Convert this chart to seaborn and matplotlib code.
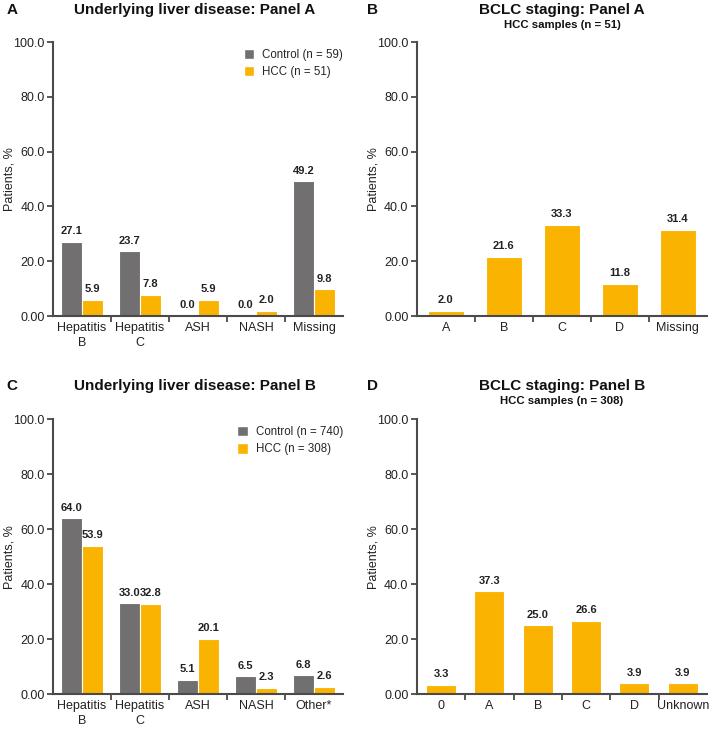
import matplotlib
matplotlib.use("Agg")
from matplotlib import pyplot as plt
from matplotlib.patches import Patch
from matplotlib.ticker import FixedLocator
import pandas as pd
import seaborn as sns

sns.set_style("ticks")
plt.rcParams['font.family'] = ['Liberation Sans', 'DejaVu Sans']

GRAY = '#716f70'
ORANGE = '#fab300'
SPINE = '#4a4a4a'

# Panel A - underlying liver disease
disease_a = ['Hepatitis\nB', 'Hepatitis\nC', 'ASH', 'NASH', 'Missing']
control_a = [27.1, 23.7, 0.0, 0.0, 49.2]
hcc_a = [5.9, 7.8, 5.9, 2.0, 9.8]
groups_a = ['Control (n = 59)', 'HCC (n = 51)']

# Panel B - BCLC staging, panel A
stage_b = ['A', 'B', 'C', 'D', 'Missing']
hcc_b = [2.0, 21.6, 33.3, 11.8, 31.4]

# Panel C - underlying liver disease
disease_c = ['Hepatitis\nB', 'Hepatitis\nC', 'ASH', 'NASH', 'Other*']
control_c = [64.0, 33.0, 5.1, 6.5, 6.8]
hcc_c = [53.9, 32.8, 20.1, 2.3, 2.6]
groups_c = ['Control (n = 740)', 'HCC (n = 308)']

# Panel D - BCLC staging, panel B
stage_d = ['0', 'A', 'B', 'C', 'D', 'Unknown']
hcc_d = [3.3, 37.3, 25.0, 26.6, 3.9, 3.9]

yticks = [0, 20, 40, 60, 80, 100]
ytick_labels = ['0.00', '20.0', '40.0', '60.0', '80.0', '100.0']
TXT = '#222222'


def style_axes(ax, n):
    ax.set_ylim(0, 100)
    ax.set_xlim(-0.5, n - 0.5)
    ax.set_yticks(yticks)
    ax.set_yticklabels(ytick_labels, fontsize=9, color=TXT)
    ax.tick_params(axis='y', direction='out', length=4, width=1.3, color=SPINE, pad=2)
    ax.tick_params(axis='x', which='major', length=0, labelsize=9, pad=4, labelcolor=TXT)
    for lab in ax.get_xticklabels():
        lab.set_linespacing(1.35)
    ax.xaxis.set_minor_locator(FixedLocator([i + 0.5 for i in range(n - 1)]))
    ax.tick_params(axis='x', which='minor', direction='out', length=4, width=1.3, color=SPINE)
    for s in ['left', 'bottom']:
        ax.spines[s].set_linewidth(1.5)
        ax.spines[s].set_color(SPINE)
    sns.despine(ax=ax)
    ax.set_xlabel('')
    ax.set_ylabel('Patients, %', fontsize=9, color=TXT)
    ax.yaxis.set_label_coords(-0.13, 0.5)
    for c in ax.containers:
        ax.bar_label(c, fmt='%.1f', padding=4, fontsize=8, fontweight='bold', color=TXT)


def grouped(ax, cats, control, hcc, groups):
    df = pd.DataFrame({
        'cat': cats * 2,
        'val': control + hcc,
        'grp': [groups[0]] * len(cats) + [groups[1]] * len(cats),
    })
    sns.barplot(data=df, x='cat', y='val', hue='grp', palette=[GRAY, ORANGE], saturation=1,
                width=0.72, edgecolor='white', linewidth=0.8, gap=0, ax=ax, legend=False)
    style_axes(ax, len(cats))
    handles = [Patch(facecolor=GRAY, label=groups[0]), Patch(facecolor=ORANGE, label=groups[1])]
    ax.legend(handles=handles, loc='upper right', bbox_to_anchor=(1.0, 0.975), frameon=False,
              fontsize=8.3, handlelength=0.9, handleheight=1.0, handletextpad=0.7,
              labelspacing=0.45, borderaxespad=0, borderpad=0)


def single(ax, cats, vals):
    df = pd.DataFrame({'cat': cats, 'val': vals})
    sns.barplot(data=df, x='cat', y='val', color=ORANGE, saturation=1,
                width=0.62, edgecolor='white', linewidth=0.8, ax=ax)
    style_axes(ax, len(cats))


fig = plt.figure(figsize=(7.09, 7.31), dpi=100)
axA = fig.add_axes([0.0748, 0.5677, 0.409, 0.3748])
axB = fig.add_axes([0.588, 0.5677, 0.409, 0.3748])
axC = fig.add_axes([0.0748, 0.0506, 0.409, 0.376])
axD = fig.add_axes([0.588, 0.0506, 0.409, 0.376])

grouped(axA, disease_a, control_a, hcc_a, groups_a)
single(axB, stage_b, hcc_b)
grouped(axC, disease_c, control_c, hcc_c, groups_c)
single(axD, stage_d, hcc_d)

# titles
title_kw = dict(fontsize=11, fontweight='bold', ha='center', va='center', color='#111111')
fig.text(195 / 709, 1 - 10 / 731, 'Underlying liver disease: Panel A', **title_kw)
fig.text(562 / 709, 1 - 10 / 731, 'BCLC staging: Panel A', **title_kw)
fig.text(195 / 709, 1 - 386 / 731, 'Underlying liver disease: Panel B', **title_kw)
fig.text(562 / 709, 1 - 386 / 731, 'BCLC staging: Panel B', **title_kw)
sub_kw = dict(fontsize=8.2, fontweight='bold', ha='center', va='center', color='#111111')
fig.text(562 / 709, 1 - 25 / 731, 'HCC samples (n = 51)', **sub_kw)
fig.text(562 / 709, 1 - 401 / 731, 'HCC samples (n = 308)', **sub_kw)

letter_kw = dict(fontsize=11, fontweight='bold', ha='center', va='center', color='#111111')
fig.text(12 / 709, 1 - 10 / 731, 'A', **letter_kw)
fig.text(373 / 709, 1 - 10 / 731, 'B', **letter_kw)
fig.text(12 / 709, 1 - 386 / 731, 'C', **letter_kw)
fig.text(373 / 709, 1 - 386 / 731, 'D', **letter_kw)

fig.savefig('out.png', dpi=100)
